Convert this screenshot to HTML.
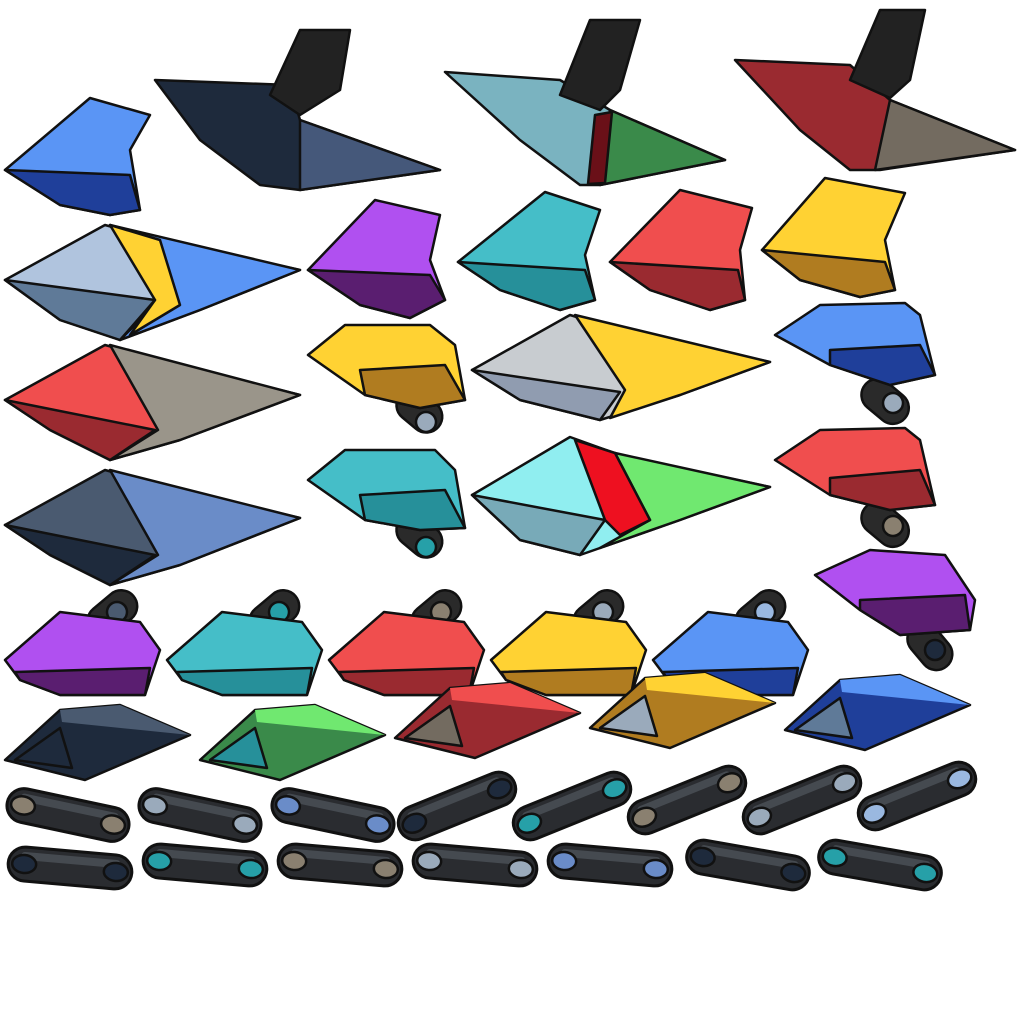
<!DOCTYPE html>
<html><head><meta charset="utf-8"><style>
html,body{margin:0;padding:0;background:#fff;width:1024px;height:1024px;overflow:hidden}
svg{display:block}
</style></head><body>
<svg id="s" width="1024" height="1024" viewBox="0 0 1024 1024" stroke="#111" stroke-width="2.5" stroke-linejoin="round">
<!-- Row 1 -->
<g>
<polygon points="5,170 90,98 150,115 130,150 140,210 110,215 60,205" fill="#5a95f5"/>
<polygon points="5,170 130,175 140,210 110,215 60,205" fill="#1f3f9a"/>
</g>
<g>
<polygon points="155,80 290,85 300,120 440,170 300,190 260,185 200,140" fill="#1e2a3c"/>
<polygon points="300,120 440,170 300,190" fill="#45587a"/>
<polygon points="270,95 300,30 350,30 340,90 300,115" fill="#222"/>
</g>
<g>
<polygon points="445,72 560,80 610,110 725,160 600,185 580,185 520,140" fill="#7ab3c0"/>
<polygon points="610,110 725,160 600,185" fill="#3a8a4a"/>
<polygon points="595,115 612,112 605,183 588,184" fill="#6a1018"/>
<polygon points="560,95 590,20 640,20 620,90 600,110" fill="#222"/>
</g>
<g>
<polygon points="735,60 850,65 890,100 1015,150 880,170 850,170 800,130" fill="#9a2a30"/>
<polygon points="890,100 1015,150 875,170" fill="#736b60"/>
<polygon points="850,80 880,10 925,10 910,80 890,98" fill="#222"/>
</g>
<!-- Row 2 -->
<g>
<polygon points="5,280 105,225 160,240 300,270 200,310 120,340 60,320" fill="#b0c4de"/>
<polygon points="110,225 300,270 200,310 120,340 160,300" fill="#5a95f5"/>
<polygon points="110,225 160,240 180,305 130,335 155,300" fill="#ffd233"/>
<polygon points="5,280 155,300 120,340 60,320" fill="#5f7a98"/>
</g>
<g>
<polygon points="308,270 375,200 440,215 430,260 445,300 410,318 360,305" fill="#b050f0"/>
<polygon points="308,270 430,275 445,300 410,318 360,305" fill="#5a1e70"/>
</g>
<g>
<polygon points="458,262 545,192 600,210 585,255 595,300 560,310 500,290" fill="#45bec8"/>
<polygon points="458,262 585,270 595,300 560,310 500,290" fill="#26909a"/>
</g>
<g>
<polygon points="610,262 680,190 752,208 740,250 745,300 710,310 650,290" fill="#f04e4e"/>
<polygon points="610,262 738,270 745,300 710,310 650,290" fill="#9a2a30"/>
</g>
<g>
<polygon points="762,250 825,178 905,193 885,240 895,290 860,297 800,280" fill="#ffd233"/>
<polygon points="762,250 885,262 895,290 860,297 800,280" fill="#b07c20"/>
</g>
<!-- Row 3 -->
<g>
<polygon points="5,400 105,345 160,360 300,395 180,440 110,460 50,430" fill="#f04e4e"/>
<polygon points="110,345 300,395 180,440 110,460 158,430" fill="#9a958a"/>
<polygon points="5,400 155,430 110,460 50,430" fill="#9a2a30"/>
</g>
<g>
<rect x="395" y="395" width="50" height="32" rx="16" fill="#2a2a2a" transform="rotate(40 420 410)"/>
<circle cx="426" cy="422" r="10" fill="#9aaabb"/>
<polygon points="308,355 345,325 430,325 455,345 465,400 420,408 365,395" fill="#ffd233"/>
<polygon points="360,370 445,365 465,400 420,408 365,395" fill="#b07c20"/>
</g>
<g>
<polygon points="472,370 570,315 620,330 770,362 680,395 600,420 520,400" fill="#c8ccd0"/>
<polygon points="575,315 770,362 680,395 610,418 625,390" fill="#ffd233"/>
<polygon points="472,370 620,392 600,420 520,400" fill="#909cb0"/>
</g>
<g>
<rect x="860" y="385" width="52" height="32" rx="16" fill="#2a2a2a" transform="rotate(40 885 400)"/>
<circle cx="893" cy="403" r="10" fill="#9aaabb"/>
<polygon points="775,335 820,305 905,303 920,315 935,375 890,385 830,365" fill="#5a95f5"/>
<polygon points="830,350 920,345 935,375 890,385 830,365" fill="#1f3f9a"/>
</g>
<!-- Row 4 -->
<g>
<polygon points="5,525 105,470 160,485 300,518 180,565 110,585 50,555" fill="#4a5a70"/>
<polygon points="110,470 300,518 180,565 110,585 158,555" fill="#6a8cc8"/>
<polygon points="5,525 155,555 110,585 50,555" fill="#1e2a3c"/>
</g>
<g>
<rect x="395" y="520" width="50" height="32" rx="16" fill="#2a2a2a" transform="rotate(40 420 535)"/>
<circle cx="426" cy="547" r="10" fill="#26a0a8"/>
<polygon points="308,480 345,450 435,450 455,470 465,528 420,530 365,520" fill="#45bec8"/>
<polygon points="360,495 445,490 465,528 420,530 365,520" fill="#26909a"/>
</g>
<g>
<polygon points="472,495 570,437 620,455 770,487 680,520 580,555 520,540" fill="#90eef0"/>
<polygon points="615,453 770,487 680,520 600,548 650,520" fill="#70e870"/>
<polygon points="575,440 615,453 650,520 620,535 605,520" fill="#ee1020"/>
<polygon points="472,495 605,520 580,555 520,540" fill="#78aab8"/>
</g>
<g>
<rect x="860" y="508" width="52" height="32" rx="16" fill="#2a2a2a" transform="rotate(40 885 523)"/>
<circle cx="893" cy="526" r="10" fill="#8a8070"/>
<polygon points="775,460 820,430 905,428 920,440 935,505 890,510 830,495" fill="#f04e4e"/>
<polygon points="830,478 920,470 935,505 890,510 830,495" fill="#9a2a30"/>
</g>
<!-- Row 5 visors -->
<g id="visors"></g>
<g>
<rect x="905" y="630" width="52" height="32" rx="16" fill="#2a2a2a" transform="rotate(50 930 645)"/>
<circle cx="935" cy="650" r="10" fill="#1e2a3c"/>
<polygon points="815,575 870,550 945,555 975,600 970,630 900,635 860,610" fill="#b050f0"/>
<polygon points="860,600 965,595 970,630 900,635 860,610" fill="#5a1e70"/>
</g>
<!-- Row 6 fins -->
<g id="fins"></g>
<!-- Row 7 pills -->
<g id="pills"></g>
</svg>
<script>
const NS="http://www.w3.org/2000/svg";
function mk(tag,attrs,parent){const e=document.createElementNS(NS,tag);for(const k in attrs)e.setAttribute(k,attrs[k]);parent.appendChild(e);return e;}
// visors row
const visorX=[0,162,324,486,648];
const visorTop=["#b050f0","#45bec8","#f04e4e","#ffd233","#5a95f5"];
const visorBot=["#5a1e70","#26909a","#9a2a30","#b07c20","#1f3f9a"];
const visorKnob=["#4a5a70","#26a0a8","#8a8070","#9aaabb","#9ab8e0"];
const vg=document.getElementById('visors');
visorX.forEach((dx,i)=>{
  const g=mk('g',{transform:`translate(${dx},0)`},vg);
  
  
  mk('rect',{x:85,y:598,width:55,height:32,rx:16,fill:'#2a2a2a',transform:'rotate(-40 112 614)'},g);
  mk('circle',{cx:117,cy:612,r:10,fill:visorKnob[i]},g);
  mk('polygon',{points:'5,660 60,612 140,622 160,650 145,695 60,695 20,680',fill:visorTop[i]},g);
  mk('polygon',{points:'15,672 150,668 145,695 60,695 20,680',fill:visorBot[i]},g);
});
// fins
const finX=[0,195,390,585,780];
const finY=[0,0,-22,-32,-30];
const finFill=["#1e2a3c","#3a8a4a","#9a2a30","#b07c20","#1f3f9a"];
const finTop=["#4a5a70","#70e870","#f04e4e","#ffd233","#5a95f5"];
const finIn=["#1e2a3c","#26909a","#736b60","#9aaabb","#5f7a98"];
const fg=document.getElementById('fins');
finX.forEach((dx,i)=>{
  const g=mk('g',{transform:`translate(${dx},${finY[i]})`},fg);
  
  
  mk('polygon',{points:'5,760 60,710 120,705 190,735 85,780',fill:finFill[i]},g);
  mk('polygon',{points:'60,710 120,705 190,735 62,722',fill:finTop[i],stroke:'none'},g);
  mk('polygon',{points:'15,760 60,728 72,768',fill:finIn[i]},g);
});
// pills
const pillCX=[68,200,333,457,572,687,802,917,70,205,340,475,610,748,880];
const pillCY=[815,815,815,806,806,800,800,796,868,865,865,865,865,865,865];
const pillRot=[12,12,12,-22,-22,-22,-22,-22,5,5,5,5,5,10,10];
const pillKnob=["#8a8070","#9aaabb","#6a8cc8","#1e2a3c","#26a0a8","#8a8070","#9aaabb","#9ab8e0","#1e2a3c","#26a0a8","#8a8070","#9aaabb","#6a8cc8","#1e2a3c","#26a0a8"];
const pg=document.getElementById('pills');
pillCX.forEach((cx,i)=>{
  const g=mk('g',{transform:`translate(${cx},${pillCY[i]}) rotate(${pillRot[i]})`},pg);
  
  
  mk('rect',{x:-62,y:-17,width:124,height:34,rx:17,fill:'#2a2c30',stroke:'#111','stroke-width':3},g);
  mk('rect',{x:-50,y:-12,width:100,height:8,rx:4,fill:'#454a50',stroke:'none'},g);
  mk('ellipse',{cx:-46,cy:0,rx:12,ry:9,fill:pillKnob[i]},g);
  mk('ellipse',{cx:46,cy:0,rx:12,ry:9,fill:pillKnob[i]},g);
});
</script>
</body></html>
